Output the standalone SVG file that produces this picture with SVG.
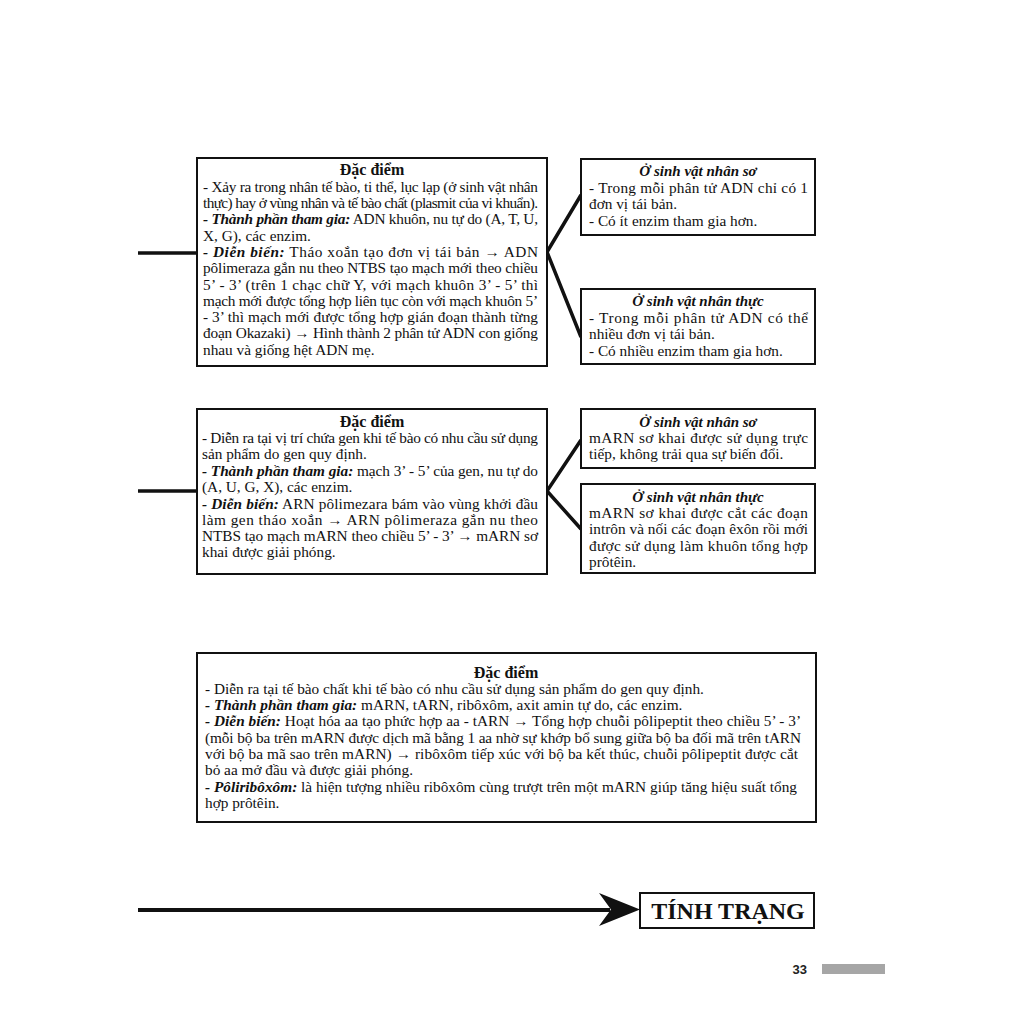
<svg xmlns="http://www.w3.org/2000/svg" width="1024" height="1024" viewBox="0 0 1024 1024">
<style>
.box{fill:#fff;stroke:#111;stroke-width:2}
.t{font-family:"Liberation Serif","Times New Roman",serif;font-size:15.3px;fill:#111}
.h{font-family:"Liberation Serif","Times New Roman",serif;font-size:16px;font-weight:bold;fill:#111;text-anchor:middle}
.hi{font-family:"Liberation Serif","Times New Roman",serif;font-size:15px;font-weight:bold;font-style:italic;fill:#111;text-anchor:middle}
.bi{font-weight:bold;font-style:italic}
.c{stroke:#111;stroke-width:3.5;fill:none}
</style>
<rect width="1024" height="1024" fill="#fff"/>
<g id="connectors">
<line class="c" x1="138" y1="253" x2="197" y2="253"/>
<polyline class="c" points="581,195 547,252 581,337"/>
<line class="c" x1="138" y1="491" x2="197" y2="491"/>
<polyline class="c" points="581,440 547,491 581,529"/>
<line x1="138" y1="910" x2="610" y2="910" stroke="#111" stroke-width="4"/>
<polygon points="599,893 640,909.5 599,926 611,909.5" fill="#111"/>
</g>
<g id="box1">
<rect class="box" x="197" y="158" width="350" height="208"/>
<text class="h" x="372" y="175">Đặc điểm</text>
<text class="t" x="203" y="192" textLength="335" lengthAdjust="spacing">- Xảy ra trong nhân tế bào, ti thể, lục lạp (ở sinh vật nhân</text>
<text class="t" x="203" y="208" textLength="335" lengthAdjust="spacing">thực) hay ở vùng nhân và tế bào chất (plasmit của vi khuẩn).</text>
<text class="t" x="203" y="224" textLength="335" lengthAdjust="spacing"><tspan class="bi">- Thành phần tham gia:</tspan> ADN khuôn, nu tự do (A, T, U,</text>
<text class="t" x="203" y="241">X, G), các enzim.</text>
<text class="t" x="203" y="257" textLength="335" lengthAdjust="spacing"><tspan class="bi">- Diễn biến:</tspan> Tháo xoắn tạo đơn vị tái bản → ADN</text>
<text class="t" x="203" y="273" textLength="335" lengthAdjust="spacing">pôlimeraza gắn nu theo NTBS tạo mạch mới theo chiều</text>
<text class="t" x="203" y="290" textLength="335" lengthAdjust="spacing">5’ - 3’ (trên 1 chạc chữ Y, với mạch khuôn 3’ - 5’ thì</text>
<text class="t" x="203" y="306" textLength="335" lengthAdjust="spacing">mạch mới được tổng hợp liên tục còn với mạch khuôn 5’</text>
<text class="t" x="203" y="322" textLength="335" lengthAdjust="spacing">- 3’ thì mạch mới được tổng hợp gián đoạn thành từng</text>
<text class="t" x="203" y="338" textLength="335" lengthAdjust="spacing">đoạn Okazaki) → Hình thành 2 phân tử ADN con giống</text>
<text class="t" x="203" y="355">nhau và giống hệt ADN mẹ.</text>
</g>
<g id="box1a">
<rect class="box" x="581" y="159" width="234" height="76"/>
<text class="hi" x="698" y="176">Ở sinh vật nhân sơ</text>
<text class="t" x="589" y="193" textLength="219" lengthAdjust="spacing">- Trong mỗi phân tử ADN chỉ có 1</text>
<text class="t" x="589" y="209">đơn vị tái bản.</text>
<text class="t" x="589" y="226">- Có ít enzim tham gia hơn.</text>
</g>
<g id="box1b">
<rect class="box" x="581" y="289" width="234" height="75"/>
<text class="hi" x="698" y="306">Ở sinh vật nhân thực</text>
<text class="t" x="589" y="323" textLength="219" lengthAdjust="spacing">- Trong mỗi phân tử ADN có thể</text>
<text class="t" x="589" y="339">nhiều đơn vị tái bản.</text>
<text class="t" x="589" y="356">- Có nhiều enzim tham gia hơn.</text>
</g>
<g id="box2">
<rect class="box" x="197" y="409" width="350" height="165"/>
<text class="h" x="372" y="427">Đặc điểm</text>
<text class="t" x="202" y="443" textLength="336" lengthAdjust="spacing">- Diễn ra tại vị trí chứa gen khi tế bào có nhu cầu sử dụng</text>
<text class="t" x="202" y="459">sản phẩm do gen quy định.</text>
<text class="t" x="202" y="476" textLength="336" lengthAdjust="spacing"><tspan class="bi">- Thành phần tham gia:</tspan> mạch 3’ - 5’ của gen, nu tự do</text>
<text class="t" x="202" y="492">(A, U, G, X), các enzim.</text>
<text class="t" x="202" y="509" textLength="336" lengthAdjust="spacing"><tspan class="bi">- Diễn biến:</tspan> ARN pôlimezara bám vào vùng khởi đầu</text>
<text class="t" x="202" y="525" textLength="336" lengthAdjust="spacing">làm gen tháo xoắn → ARN pôlimeraza gắn nu theo</text>
<text class="t" x="202" y="541" textLength="336" lengthAdjust="spacing">NTBS tạo mạch mARN theo chiều 5’ - 3’ → mARN sơ</text>
<text class="t" x="202" y="557">khai được giải phóng.</text>
</g>
<g id="box2a">
<rect class="box" x="581" y="409" width="234" height="59"/>
<text class="hi" x="698" y="427">Ở sinh vật nhân sơ</text>
<text class="t" x="589" y="443" textLength="219" lengthAdjust="spacing">mARN sơ khai được sử dụng trực</text>
<text class="t" x="589" y="459">tiếp, không trải qua sự biến đổi.</text>
</g>
<g id="box2b">
<rect class="box" x="581" y="484" width="234" height="89"/>
<text class="hi" x="698" y="502">Ở sinh vật nhân thực</text>
<text class="t" x="589" y="518" textLength="219" lengthAdjust="spacing">mARN sơ khai được cắt các đoạn</text>
<text class="t" x="589" y="534" textLength="219" lengthAdjust="spacing">intrôn và nối các đoạn êxôn rồi mới</text>
<text class="t" x="589" y="551" textLength="219" lengthAdjust="spacing">được sử dụng làm khuôn tổng hợp</text>
<text class="t" x="589" y="567">prôtêin.</text>
</g>
<g id="box3">
<rect class="box" x="197" y="653" width="619" height="169"/>
<text class="h" x="506" y="678">Đặc điểm</text>
<text class="t" x="205" y="694">- Diễn ra tại tế bào chất khi tế bào có nhu cầu sử dụng sản phẩm do gen quy định.</text>
<text class="t" x="205" y="710"><tspan class="bi">- Thành phần tham gia:</tspan> mARN, tARN, ribôxôm, axit amin tự do, các enzim.</text>
<text class="t" x="205" y="726" textLength="596" lengthAdjust="spacing"><tspan class="bi">- Diễn biến:</tspan> Hoạt hóa aa tạo phức hợp aa - tARN → Tổng hợp chuỗi pôlipeptit theo chiều 5’ - 3’</text>
<text class="t" x="205" y="743" textLength="596" lengthAdjust="spacing">(mỗi bộ ba trên mARN được dịch mã bằng 1 aa nhờ sự khớp bổ sung giữa bộ ba đối mã trên tARN</text>
<text class="t" x="205" y="759" textLength="593" lengthAdjust="spacing">với bộ ba mã sao trên mARN) → ribôxôm tiếp xúc với bộ ba kết thúc, chuỗi pôlipeptit được cắt</text>
<text class="t" x="205" y="775">bỏ aa mở đầu và được giải phóng.</text>
<text class="t" x="205" y="792" textLength="592" lengthAdjust="spacing"><tspan class="bi">- Pôliribôxôm:</tspan> là hiện tượng nhiều ribôxôm cùng trượt trên một mARN giúp tăng hiệu suất tổng</text>
<text class="t" x="205" y="808">hợp prôtêin.</text>
</g>
<g id="tinh-trang">
<rect class="box" x="640" y="893" width="174" height="35"/>
<text x="728" y="919" font-family="'Liberation Serif','Times New Roman',serif" font-size="24" font-weight="bold" fill="#111" text-anchor="middle">TÍNH TRẠNG</text>
</g>
<g id="page-number">
<text x="807" y="974" font-family="'Liberation Sans',Arial,sans-serif" font-size="13" font-weight="bold" fill="#222" text-anchor="end">33</text>
<rect x="822" y="964" width="63" height="10" fill="#a6a6a6"/>
</g>
</svg>
